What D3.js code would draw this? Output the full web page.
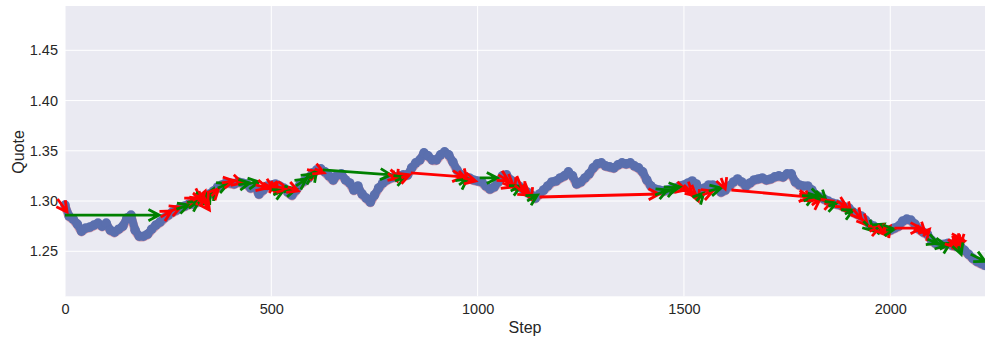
<!DOCTYPE html>
<html><head><meta charset="utf-8">
<script src="https://cdn.jsdelivr.net/npm/d3@7"></script>
<style>body{margin:0;background:#fff}svg{display:block}text{font-family:"Liberation Sans",Arial,sans-serif;fill:#262626}</style>
</head><body><svg id="c" width="985" height="342"></svg>
<script>
// Quote sampled every 10 steps (step = index * 10)
const quote = [
1.296,1.285,1.282,1.277,1.270,1.273,1.274,1.276,1.278,1.275,
1.278,1.271,1.269,1.272,1.275,1.283,1.286,1.271,1.265,1.265,
1.267,1.272,1.276,1.279,1.283,1.286,1.289,1.291,1.294,1.295,
1.297,1.297,1.299,1.301,1.304,1.307,1.310,1.314,1.316,1.318,
1.318,1.317,1.319,1.318,1.317,1.313,1.315,1.307,1.311,1.315,
1.316,1.317,1.315,1.313,1.309,1.306,1.311,1.317,1.320,1.323,
1.328,1.331,1.332,1.329,1.325,1.321,1.326,1.327,1.321,1.318,
1.311,1.315,1.307,1.303,1.299,1.306,1.313,1.318,1.321,1.323,
1.324,1.325,1.326,1.326,1.333,1.338,1.341,1.348,1.345,1.341,
1.341,1.346,1.349,1.346,1.339,1.331,1.326,1.324,1.323,1.321,
1.320,1.319,1.315,1.312,1.314,1.319,1.325,1.326,1.321,1.317,
1.315,1.312,1.309,1.306,1.303,1.307,1.311,1.315,1.319,1.320,
1.323,1.325,1.329,1.325,1.317,1.319,1.323,1.327,1.333,1.337,
1.338,1.335,1.334,1.333,1.336,1.338,1.337,1.338,1.335,1.333,
1.329,1.321,1.315,1.312,1.311,1.310,1.311,1.312,1.313,1.315,
1.316,1.318,1.320,1.317,1.311,1.313,1.316,1.316,1.313,1.309,
1.311,1.315,1.319,1.322,1.319,1.315,1.318,1.321,1.322,1.323,
1.321,1.322,1.324,1.325,1.324,1.327,1.327,1.319,1.316,1.315,
1.315,1.311,1.306,1.304,1.302,1.300,1.298,1.297,1.296,1.294,
1.293,1.289,1.287,1.285,1.281,1.277,1.275,1.273,1.272,1.271,
1.271,1.273,1.275,1.280,1.282,1.281,1.277,1.272,1.269,1.267,
1.261,1.258,1.257,1.257,1.258,1.256,1.255,1.255,1.251,1.247,
1.243,1.240,1.238,1.236];
const stepEvery = 10;

// Trades: [entry step, entry quote, exit step, exit quote, outcome]
const trades = [
[-18,1.302,5,1.289,'r'],[0,1.286,228,1.286,'g'],
[232,1.284,258,1.290,'r'],[250,1.289,280,1.294,'r'],[270,1.292,300,1.296,'g'],[295,1.298,318,1.303,'r'],
[300,1.293,325,1.300,'g'],[310,1.308,330,1.302,'r'],[318,1.296,335,1.306,'r'],[320,1.303,345,1.305,'g'],
[330,1.300,340,1.310,'r'],[335,1.296,352,1.308,'g'],[340,1.297,350,1.291,'r'],[345,1.300,360,1.312,'g'],
[325,1.310,332,1.298,'r'],[335,1.306,345,1.296,'r'],
[355,1.305,372,1.312,'r'],[370,1.313,395,1.317,'g'],[380,1.318,410,1.320,'r'],[405,1.321,430,1.318,'r'],
[420,1.316,448,1.318,'g'],[440,1.317,470,1.319,'g'],
[462,1.316,490,1.313,'r'],[480,1.318,505,1.312,'r'],[495,1.308,510,1.318,'r'],[500,1.320,512,1.308,'r'],
[505,1.306,530,1.311,'g'],[515,1.314,540,1.312,'r'],[530,1.309,560,1.312,'g'],[540,1.314,565,1.310,'r'],
[560,1.315,585,1.322,'g'],[575,1.320,600,1.327,'g'],[590,1.326,615,1.329,'r'],[595,1.322,610,1.330,'g'],
[605,1.332,628,1.328,'r'],
[625,1.331,790,1.326,'g'],
[785,1.326,810,1.323,'r'],[795,1.330,805,1.320,'r'],[800,1.320,825,1.324,'g'],[815,1.323,835,1.326,'r'],
[838,1.328,965,1.324,'r'],
[955,1.330,975,1.321,'r'],[955,1.316,975,1.322,'g'],[965,1.323,995,1.320,'r'],[1005,1.323,1048,1.323,'g'],
[1050,1.326,1075,1.320,'r'],[1060,1.318,1085,1.314,'r'],[1075,1.327,1090,1.312,'r'],[1080,1.310,1105,1.315,'g'],
[1095,1.325,1112,1.308,'r'],[1100,1.312,1125,1.306,'r'],[1115,1.318,1130,1.302,'r'],[1120,1.300,1145,1.306,'g'],
[1150,1.304,1440,1.307,'r'],
[1430,1.306,1460,1.311,'g'],[1450,1.308,1480,1.313,'g'],[1480,1.314,1505,1.311,'r'],[1470,1.313,1490,1.314,'g'],
[1500,1.316,1520,1.308,'r'],[1510,1.312,1530,1.305,'r'],[1525,1.310,1535,1.300,'r'],[1530,1.300,1548,1.308,'g'],
[1545,1.306,1570,1.310,'r'],[1560,1.310,1590,1.313,'g'],[1590,1.323,1600,1.312,'r'],
[1615,1.311,1805,1.304,'r'],
[1780,1.308,1810,1.300,'r'],[1790,1.300,1815,1.305,'g'],[1800,1.308,1830,1.304,'g'],[1810,1.296,1830,1.302,'r'],
[1820,1.310,1845,1.300,'g'],[1840,1.297,1860,1.300,'r'],[1850,1.295,1870,1.298,'g'],[1870,1.300,1895,1.294,'r'],
[1885,1.298,1905,1.288,'r'],[1890,1.287,1910,1.291,'g'],[1910,1.292,1930,1.282,'r'],[1925,1.285,1945,1.276,'r'],
[1935,1.280,1960,1.270,'g'],[1950,1.270,1975,1.274,'r'],[1965,1.272,1985,1.277,'g'],[1970,1.276,1990,1.266,'r'],
[1985,1.266,2000,1.275,'r'],[1990,1.271,2010,1.272,'g'],[2010,1.273,2075,1.273,'r'],[2065,1.276,2085,1.268,'r'],
[2080,1.265,2095,1.272,'r'],[2090,1.262,2115,1.258,'g'],[2105,1.258,2135,1.256,'g'],[2120,1.252,2145,1.258,'g'],
[2140,1.262,2160,1.254,'r'],[2150,1.252,2165,1.262,'r'],[2155,1.265,2170,1.255,'r'],[2160,1.258,2180,1.260,'r'],
[2165,1.268,2170,1.256,'r'],[2150,1.262,2175,1.262,'r'],
[2165,1.255,2172,1.247,'g'],[2195,1.247,2230,1.240,'g']];

const yTicks = [1.25,1.30,1.35,1.40,1.45];
const xTicks = [0,500,1000,1500,2000];

const svg = d3.select("#c");
const L=65,R=985,T=6,B=296.3;
const x = d3.scaleLinear().domain([0,2229.6]).range([L,R]);
const y = d3.scaleLinear().domain([1.2052,1.4941]).range([B,T]);

svg.append("rect").attr("x",L).attr("y",T).attr("width",R-L).attr("height",B-T).attr("fill","#EAEAF2");
const g = svg.append("g");
g.selectAll(".gx").data(xTicks).join("line").attr("x1",d=>x(d)).attr("x2",d=>x(d)).attr("y1",T).attr("y2",B).attr("stroke","#fff").attr("stroke-width",1);
g.selectAll(".gy").data(yTicks).join("line").attr("x1",L).attr("x2",R).attr("y1",d=>y(d)).attr("y2",d=>y(d)).attr("stroke","#fff").attr("stroke-width",1);

const xAxis = svg.append("g").attr("transform",`translate(0,${B})`).call(d3.axisBottom(x).tickValues(xTicks).tickSize(0).tickPadding(7).tickFormat(d3.format("d")));
const yAxis = svg.append("g").attr("transform",`translate(${L},0)`).call(d3.axisLeft(y).tickValues(yTicks).tickSize(0).tickPadding(7).tickFormat(d3.format(".2f")));
[xAxis,yAxis].forEach(a=>{a.select(".domain").remove();a.selectAll("text").style("font-size","14.5px").attr("fill","#262626").style("font-family","'Liberation Sans',Arial,sans-serif");});
xAxis.selectAll("text").attr("dy","0.71em");

svg.append("text").attr("x",525).attr("y",333).attr("text-anchor","middle").style("font-size","16px").text("Step");
svg.append("text").attr("transform","translate(23.5,152) rotate(-90)").attr("text-anchor","middle").style("font-size","16px").text("Quote");

// Quote line
const pts = quote.map((q,i)=>[i*stepEvery,q]);
const line = d3.line().x(d=>x(d[0])).y(d=>y(d[1]));
svg.append("path").datum(pts).attr("d",line).attr("fill","none").attr("stroke","#c0506a").attr("stroke-opacity",0.55).attr("stroke-width",9).attr("stroke-linejoin","round").attr("transform","translate(0,0.8)");
svg.append("path").datum(pts).attr("d",line).attr("fill","none").attr("stroke","#5a6fae").attr("stroke-width",8).attr("stroke-linejoin","round");
svg.selectAll(".dot").data(pts).join("circle").attr("cx",d=>x(d[0])).attr("cy",d=>y(d[1])).attr("r",4.8).attr("fill","#5a6fae");

// Trades as arrows
const tg = svg.append("g").attr("fill","none").attr("stroke-linecap","butt").attr("stroke-width",2.8);
trades.forEach(t=>{
  const x0=x(t[0]),y0=y(t[1]),x1=x(t[2]),y1=y(t[3]),c=t[4]==='g'?"#008000":"#ff0000";
  const a = Math.atan2(y1-y0,x1-x0), hl=12, ha=0.48;
  const p1=[x1-hl*Math.cos(a-ha), y1-hl*Math.sin(a-ha)];
  const p2=[x1-hl*Math.cos(a+ha), y1-hl*Math.sin(a+ha)];
  tg.append("path").attr("stroke",c).attr("d",`M${x0},${y0}L${x1},${y1}M${p1[0]},${p1[1]}L${x1},${y1}L${p2[0]},${p2[1]}`);
});
</script></body></html>
